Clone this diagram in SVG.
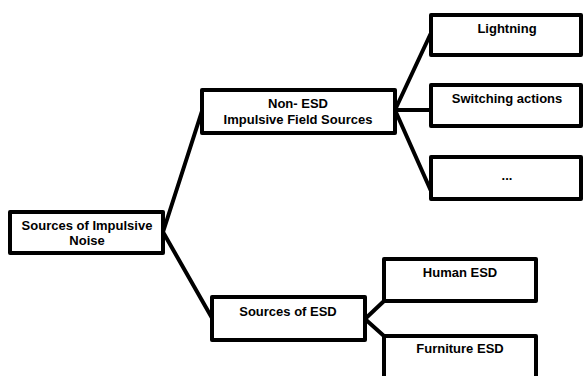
<svg xmlns="http://www.w3.org/2000/svg" width="585" height="376" viewBox="0 0 585 376">
<style>
.box{fill:#fff;stroke:#000;stroke-width:4;stroke-linejoin:round}
.t{font-family:"Liberation Sans",Arial,sans-serif;font-weight:bold;font-size:13px;fill:#000;text-anchor:middle}
.c{stroke:#000;stroke-width:4;fill:none;stroke-linecap:round}
</style>
<rect width="585" height="376" fill="#fff"/>
<g id="connectors">
<line class="c" x1="163" y1="232" x2="202" y2="111"/>
<line class="c" x1="163" y1="232" x2="212" y2="318"/>
<line class="c" x1="395" y1="110" x2="431" y2="33"/>
<line class="c" x1="395" y1="110" x2="431" y2="110"/>
<line class="c" x1="395" y1="110" x2="431" y2="191"/>
<line class="c" x1="365" y1="319" x2="384" y2="301"/>
<line class="c" x1="365" y1="319" x2="384" y2="336"/>
</g>
<g id="root">
<rect class="box" x="10" y="212" width="153" height="41"/>
<text class="t" x="87" y="230">Sources of Impulsive</text>
<text class="t" x="87" y="245">Noise</text>
</g>
<g id="nonesd">
<rect class="box" x="202" y="90" width="193" height="43"/>
<text class="t" x="298" y="108">Non- ESD</text>
<text class="t" x="298" y="124">Impulsive Field Sources</text>
</g>
<g id="esd">
<rect class="box" x="212" y="297" width="153" height="43"/>
<text class="t" x="288" y="316">Sources of ESD</text>
</g>
<g id="lightning">
<rect class="box" x="431" y="15" width="150" height="40"/>
<text class="t" x="507" y="33">Lightning</text>
</g>
<g id="switching">
<rect class="box" x="431" y="85" width="150" height="41"/>
<text class="t" x="507" y="103">Switching actions</text>
</g>
<g id="more">
<rect class="box" x="431" y="157" width="150" height="42"/>
<text class="t" x="507" y="180">...</text>
</g>
<g id="human">
<rect class="box" x="384" y="259" width="152" height="42"/>
<text class="t" x="460" y="277">Human ESD</text>
</g>
<g id="furniture">
<rect class="box" x="384" y="336" width="152" height="50"/>
<text class="t" x="460" y="353">Furniture ESD</text>
</g>
</svg>
